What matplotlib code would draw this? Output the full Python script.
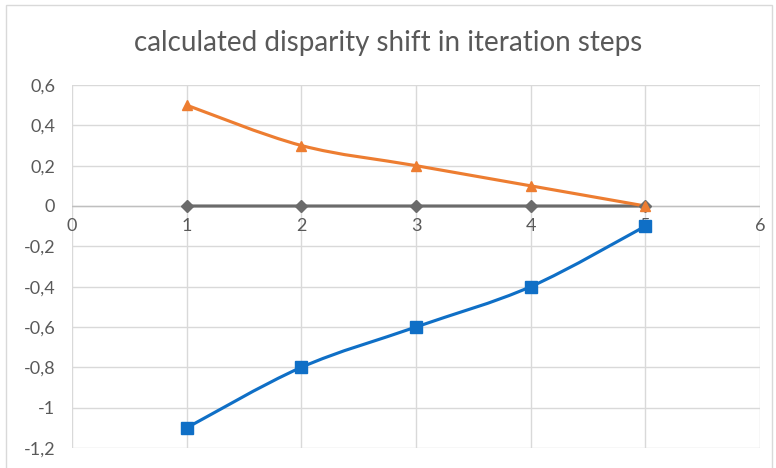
import numpy as np
import matplotlib.pyplot as plt
import matplotlib.ticker as mticker
from matplotlib.path import Path
from matplotlib.patches import PathPatch, Rectangle

# data
steps = [1, 2, 3, 4, 5]
shift_orange = [0.5, 0.3, 0.2, 0.1, 0.0]
shift_blue = [-1.1, -0.8, -0.6, -0.4, -0.1]
shift_gray = [0, 0, 0, 0, 0]

x_ticks = [0, 1, 2, 3, 4, 5, 6]
y_ticks = [-1.2, -1.0, -0.8, -0.6, -0.4, -0.2, 0, 0.2, 0.4, 0.6]

plt.rcParams['font.family'] = ['Lato', 'DejaVu Sans']


def smooth_path(xs, ys):
    # excel-like smoothing: bezier segments with catmull-rom control points
    xs = np.asarray(xs, float)
    ys = np.asarray(ys, float)
    n = len(xs)
    verts = [(xs[0], ys[0])]
    codes = [Path.MOVETO]
    for i in range(n - 1):
        p0 = np.array([xs[max(i - 1, 0)], ys[max(i - 1, 0)]])
        p1 = np.array([xs[i], ys[i]])
        p2 = np.array([xs[i + 1], ys[i + 1]])
        p3 = np.array([xs[min(i + 2, n - 1)], ys[min(i + 2, n - 1)]])
        c1 = p1 + (p2 - p0) / 6
        c2 = p2 - (p3 - p1) / 6
        verts += [tuple(c1), tuple(c2), tuple(p2)]
        codes += [Path.CURVE4] * 3
    return Path(verts, codes)


fig = plt.figure(figsize=(7.76, 4.68), dpi=100)
fig.patches.append(Rectangle((6 / 776, -0.01), 766 / 776, 1 - 5 / 468 + 0.01,
                             transform=fig.transFigure, fill=False,
                             edgecolor='#d9d9d9', linewidth=1))
ax = fig.add_axes([72 / 776, 1 - 448 / 468, 688 / 776, 363 / 468])

ax.set_xlim(0, 6)
ax.set_ylim(-1.2, 0.6)
ax.set_xticks(x_ticks)
ax.set_yticks(y_ticks)
ax.grid(True, color='#d9d9d9', linewidth=1)
ax.set_axisbelow(True)
for s in ax.spines.values():
    s.set_visible(False)
ax.axhline(0, color='#bfbfbf', linewidth=1, zorder=1)

ax.yaxis.set_major_formatter(mticker.FuncFormatter(
    lambda v, p: ('%g' % round(v, 1)).replace('.', ',')))
ax.tick_params(axis='both', length=0, labelsize=13, labelcolor='#595959')
ax.tick_params(axis='y', pad=12)
# x labels sit just under the zero line
ax.set_xticklabels([])
for xv in x_ticks:
    ax.text(xv, -0.06, str(xv), ha='center', va='top', fontsize=13,
            color='#595959')

series = [
    (shift_gray, '#6b6b6b', 'D', 6),
    (shift_orange, '#ed7d31', '^', 7.5),
    (shift_blue, '#0f6fc6', 's', 8),
]
for ys, col, mk, ms in series:
    ax.add_patch(PathPatch(smooth_path(steps, ys), fill=False, edgecolor=col,
                           linewidth=2.25, zorder=3))
    ax.plot(steps, ys, linestyle='none', marker=mk, markersize=ms, color=col,
            zorder=4, clip_on=False)

fig.text(0.5, 1 - 43 / 468, 'calculated disparity shift in iteration steps',
         ha='center', va='center', fontsize=20, color='#595959')

fig.savefig('out.png', dpi=100)
